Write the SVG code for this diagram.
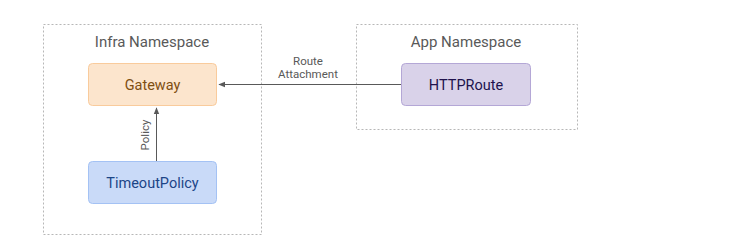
<svg xmlns="http://www.w3.org/2000/svg" width="755" height="242" viewBox="0 0 755 242">
<defs>
<style>
.ns{fill:#ffffff;stroke:#b7b7b7;stroke-width:1;stroke-dasharray:2,2}
.title{font-family:Roboto,"Liberation Sans",sans-serif;font-size:15px;fill:#595959;text-anchor:middle}
.lbl{font-family:Roboto,"Liberation Sans",sans-serif;font-size:11.5px;fill:#595959;text-anchor:middle}
.node text{font-family:Roboto,"Liberation Sans",sans-serif;font-size:14.5px;text-anchor:middle}
.edge{stroke:#595959;stroke-width:1;fill:none}
</style>
<marker id="ah" viewBox="0 0 10 10" refX="9" refY="5" markerWidth="7" markerHeight="7" orient="auto-start-reverse" markerUnits="userSpaceOnUse">
<path d="M0,1 L10,5 L0,9 Z" fill="#595959"/>
</marker>
</defs>
<rect width="755" height="242" fill="#ffffff"/>
<g id="infra-ns">
<rect class="ns" x="43.5" y="24.5" width="218" height="210"/>
<text class="title" x="152" y="47">Infra Namespace</text>
</g>
<g id="app-ns">
<rect class="ns" x="356.5" y="24.5" width="221" height="105"/>
<text class="title" x="466" y="47">App Namespace</text>
</g>
<g id="connectors">
<line class="edge" x1="401" y1="84.5" x2="219" y2="84.5" marker-end="url(#ah)"/>
<text class="lbl" x="308" y="65">Route</text>
<text class="lbl" x="308" y="78">Attachment</text>
<line class="edge" x1="156.5" y1="161" x2="156.5" y2="108" marker-end="url(#ah)"/>
<text class="lbl" transform="translate(149,135) rotate(-90)">Policy</text>
</g>
<g id="gateway" class="node">
<rect x="88.5" y="63.5" width="128" height="42" rx="4" fill="#fce5cd" stroke="#f9cb9c"/>
<text x="152.5" y="90" fill="#7f4f12">Gateway</text>
</g>
<g id="timeoutpolicy" class="node">
<rect x="88.5" y="161.5" width="128" height="42" rx="4" fill="#c9daf8" stroke="#a4c2f4"/>
<text x="152.5" y="188" fill="#1c4587">TimeoutPolicy</text>
</g>
<g id="httproute" class="node">
<rect x="401.5" y="63.5" width="129" height="42" rx="4" fill="#d9d2e9" stroke="#b4a7d6"/>
<text x="466" y="90" fill="#20124d">HTTPRoute</text>
</g>
</svg>
